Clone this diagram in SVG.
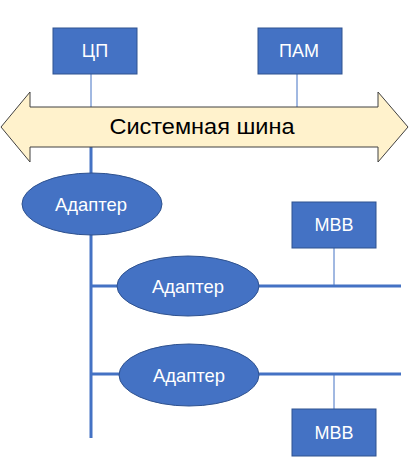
<svg xmlns="http://www.w3.org/2000/svg" width="410" height="458" viewBox="0 0 410 458">
<style>
.box{fill:#4472C4;stroke:#2F528F;stroke-width:1}
.lbl{font-family:"Liberation Sans","Noto Sans",sans-serif;fill:#FFFFFF;text-anchor:middle;dominant-baseline:central}
.ad{font-size:19px}
.thin{stroke:#4472C4;stroke-width:1;fill:none}
.thick{stroke:#4472C4;stroke-width:3;fill:none}
</style>
<rect width="410" height="458" fill="#FFFFFF"/>
<g id="connectors">
<line class="thin" x1="91" y1="74" x2="91" y2="107"/>
<line class="thin" x1="297" y1="74" x2="297" y2="107"/>
<line class="thick" x1="91" y1="147" x2="91" y2="438"/>
<line class="thick" x1="91" y1="286" x2="401" y2="286"/>
<line class="thick" x1="91" y1="374" x2="401" y2="374"/>
<line class="thin" x1="334" y1="248" x2="334" y2="286"/>
<line class="thin" x1="334" y1="374" x2="334" y2="409"/>
</g>
<g id="bus">
<polygon points="1,127 30,92 30,107 378,107 378,92 408,127 378,162 378,147 30,147 30,162" fill="#FFF2CC" stroke="#404040" stroke-width="1"/>
<text x="202" y="126" font-family="'Liberation Sans','Noto Sans',sans-serif" font-size="22" fill="#000000" text-anchor="middle" dominant-baseline="central" textLength="185" lengthAdjust="spacingAndGlyphs">Системная шина</text>
</g>
<g id="cpu">
<rect class="box" x="53" y="28" width="84" height="46"/>
<text class="lbl" x="95" y="51" font-size="18">ЦП</text>
</g>
<g id="ram">
<rect class="box" x="258" y="28" width="84" height="46"/>
<text class="lbl" x="299" y="51" font-size="18">ПАМ</text>
</g>
<g id="adapter1">
<ellipse class="box" cx="92" cy="204" rx="70" ry="31"/>
<text class="lbl ad" x="91" y="204" textLength="72" lengthAdjust="spacingAndGlyphs">Адаптер</text>
</g>
<g id="adapter2">
<ellipse class="box" cx="188" cy="286" rx="71" ry="30"/>
<text class="lbl ad" x="188" y="286" textLength="72" lengthAdjust="spacingAndGlyphs">Адаптер</text>
</g>
<g id="adapter3">
<ellipse class="box" cx="189" cy="375" rx="70" ry="31"/>
<text class="lbl ad" x="189" y="375" textLength="72" lengthAdjust="spacingAndGlyphs">Адаптер</text>
</g>
<g id="io1">
<rect class="box" x="292" y="202" width="84" height="46"/>
<text class="lbl" x="334" y="225" font-size="18">МВВ</text>
</g>
<g id="io2">
<rect class="box" x="292" y="409" width="84" height="47"/>
<text class="lbl" x="334" y="433" font-size="18">МВВ</text>
</g>
</svg>
